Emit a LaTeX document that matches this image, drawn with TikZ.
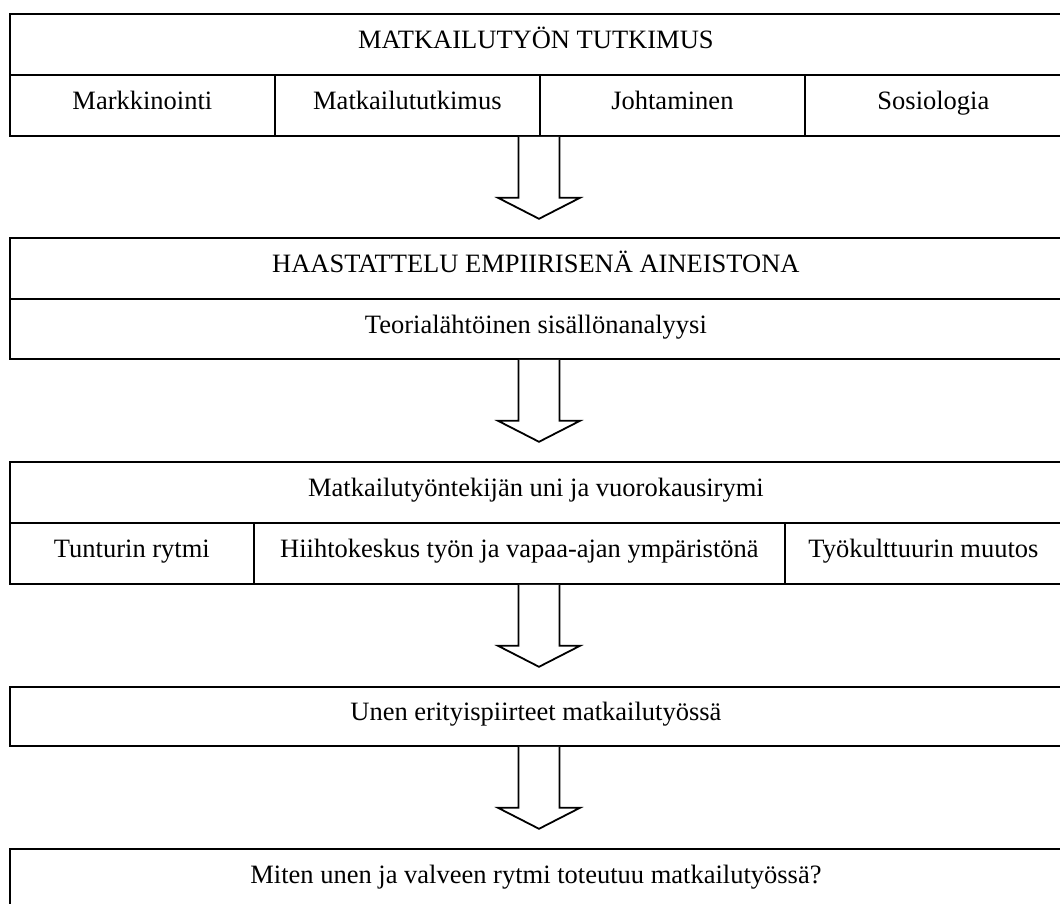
\documentclass[tikz,border=0pt]{standalone}
\usepackage{fontspec}
\setmainfont{Liberation Serif}
\usetikzlibrary{calc}
\tikzset{
  cell/.style={draw=black, line width=1.8pt, inner sep=0pt, anchor=north west,
    text height=18.5pt, text depth=10pt,
    font=\fontsize{26.5}{31}\selectfont},
  blockarrow/.style={draw=black, line width=1.8pt, line join=miter, fill=white}
}
\newcommand\blkarrow[1]{%
  \draw[blockarrow] ($(#1.south -| ax)+(-20.5,0)$) -- ++(0,61) -- ++(-20.5,0)
    -- ($(#1.south -| ax)+(0,82)$) -- ($(#1.south -| ax)+(41,61)$) -- ++(-20.5,0) -- ++(0,-61);}
\begin{document}
\begin{tikzpicture}[x=1pt,y=-1pt]
\useasboundingbox (0,0) rectangle (1060,904);
\coordinate (ax) at (539,0);
% box 1
\node[cell, minimum width=1052pt, minimum height=61pt] (t1) at (9,13) {MATKAILUTYÖN TUTKIMUS};
\node[cell, minimum width=265pt, minimum height=61pt] (c11) at (9,74) {Markkinointi};
\node[cell, minimum width=265pt, minimum height=61pt] (c12) at (274,74) {Matkailututkimus};
\node[cell, minimum width=265pt, minimum height=61pt] (c13) at (539,74) {Johtaminen};
\node[cell, minimum width=257pt, minimum height=61pt] (c14) at (804,74) {Sosiologia};
% box 2
\node[cell, minimum width=1052pt, minimum height=61pt] (t2) at (9,237) {HAASTATTELU EMPIIRISENÄ AINEISTONA};
\node[cell, minimum width=1052pt, minimum height=60pt] (c21) at (9,298) {Teorialähtöinen sisällönanalyysi};
% box 3
\node[cell, minimum width=1052pt, minimum height=61pt] (t3) at (9,461) {Matkailutyöntekijän uni ja vuorokausirymi};
\node[cell, minimum width=244pt, minimum height=61pt] (c31) at (9,522) {Tunturin rytmi};
\node[cell, minimum width=531pt, minimum height=61pt] (c32) at (253,522) {Hiihtokeskus työn ja vapaa-ajan ympäristönä};
\node[cell, minimum width=277pt, minimum height=61pt] (c33) at (784,522) {Työkulttuurin muutos};
% box 4
\node[cell, minimum width=1052pt, minimum height=59pt] (t4) at (9,686) {Unen erityispiirteet matkailutyössä};
% box 5
\node[cell, minimum width=1052pt, minimum height=61pt] (t5) at (9,848) {Miten unen ja valveen rytmi toteutuu matkailutyössä?};
% arrows
\blkarrow{c12}
\blkarrow{c21}
\blkarrow{c32}
\blkarrow{t4}
\end{tikzpicture}
\end{document}
